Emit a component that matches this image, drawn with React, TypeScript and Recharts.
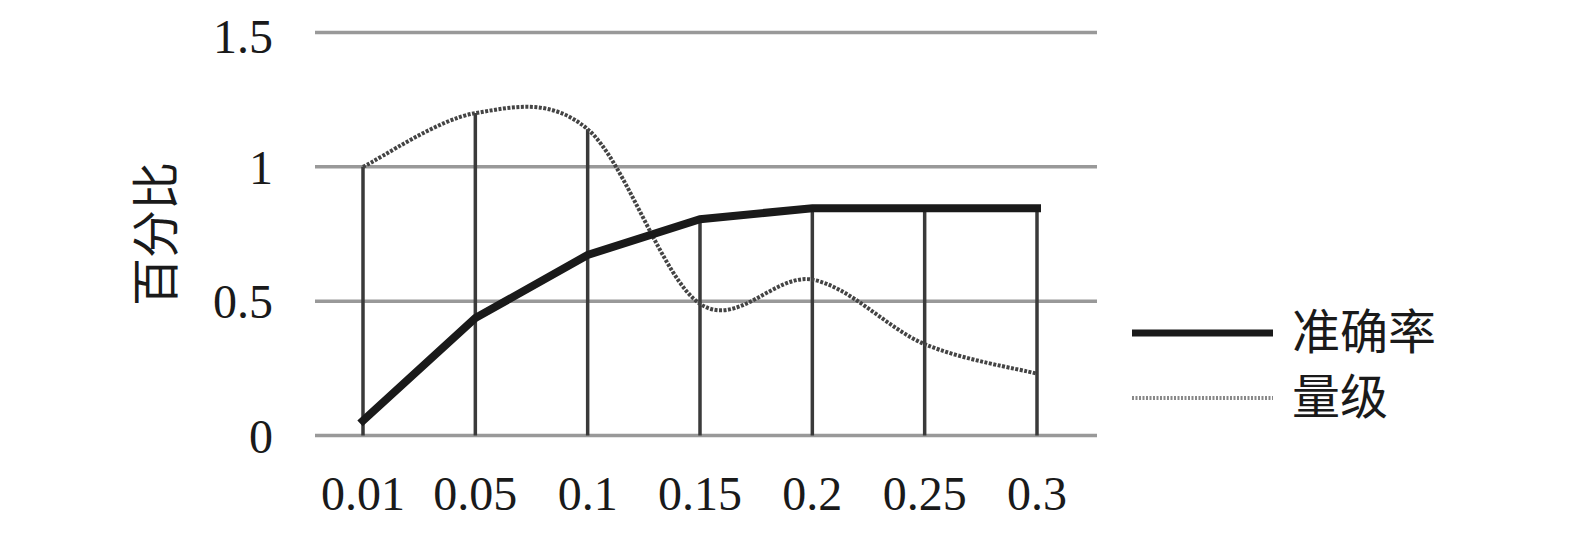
import React from "react"
import { LineChart, Line, XAxis, YAxis, CartesianGrid, ReferenceLine, Legend } from "recharts"

// x categories (threshold)
const categories = ["0.01", "0.05", "0.1", "0.15", "0.2", "0.25", "0.3"]
// 准确率 series
const accuracy = [0.055, 0.437, 0.672, 0.805, 0.846, 0.846, 0.846]
// 量级 series
const magnitude = [1.0, 1.2, 1.14, 0.49, 0.58, 0.34, 0.23]
const yTicks = [0, 0.5, 1, 1.5]

const SERIF = "'Liberation Serif', 'Times New Roman', 'Noto Sans CJK SC', serif"

const data = categories.map((c, i) => ({
  x: c,
  accuracy: accuracy[i],
  magnitude: magnitude[i],
  top: Math.max(accuracy[i], magnitude[i]),
}))

// Excel-like smooth line (uniform Catmull-Rom as cubic bezier)
const smoothCurve = (context: any) => {
  let pts: number[][] = []
  return {
    areaStart() {},
    areaEnd() {},
    lineStart() {
      pts = []
    },
    point(x: number, y: number) {
      pts.push([+x, +y])
    },
    lineEnd() {
      if (!pts.length) return
      context.moveTo(pts[0][0], pts[0][1])
      for (let i = 0; i < pts.length - 1; i++) {
        const p0 = pts[i - 1] || pts[i]
        const p1 = pts[i]
        const p2 = pts[i + 1]
        const p3 = pts[i + 2] || p2
        context.bezierCurveTo(
          p1[0] + (p2[0] - p0[0]) / 6,
          p1[1] + (p2[1] - p0[1]) / 6,
          p2[0] - (p3[0] - p1[0]) / 6,
          p2[1] - (p3[1] - p1[1]) / 6,
          p2[0],
          p2[1],
        )
      }
    },
  }
}

const legendItems = [
  { name: "准确率", stroke: "#1a1a1a", width: 7, dash: undefined as string | undefined },
  { name: "量级", stroke: "#888", width: 4, dash: "2 1.5" },
]

const renderLegend = () => (
  <div style={{ fontFamily: SERIF, fontSize: 48, color: "#1a1a1a" }}>
    {legendItems.map((item) => (
      <div key={item.name} style={{ display: "flex", alignItems: "center", height: 65 }}>
        <svg width={141} height={10}>
          <line x1={0} y1={5} x2={141} y2={5} stroke={item.stroke} strokeWidth={item.width} strokeDasharray={item.dash} />
        </svg>
        <span style={{ marginLeft: 19, lineHeight: "65px" }}>{item.name}</span>
      </div>
    ))}
  </div>
)

export default function App() {
  return (
    <div style={{ width: 1559, height: 517, background: "#fff" }}>
      <LineChart width={1559} height={517} data={data} margin={{ top: 24.5, right: 470, bottom: 29.5, left: 0 }}>
        <CartesianGrid vertical={false} stroke="#999" strokeWidth={3.5} />
        <XAxis
          dataKey="x"
          type="category"
          scale="point"
          padding={{ left: 48, right: 60 }}
          axisLine={false}
          tickLine={false}
          height={60}
          tickMargin={34}
          interval={0}
          tick={{ fontFamily: SERIF, fontSize: 48, fill: "#1a1a1a" }}
        />
        <YAxis
          domain={[0, 1.5]}
          ticks={yTicks}
          width={307}
          axisLine={false}
          tickLine={false}
          tickMargin={36}
          tick={{ fontFamily: SERIF, fontSize: 48, fill: "#1a1a1a" }}
          label={{
            value: "百分比",
            angle: -90,
            position: "center",
            dx: -6,
            style: { fontFamily: SERIF, fontSize: 48, fill: "#1a1a1a" },
          }}
        />
        {data.map((d) => (
          <ReferenceLine
            key={d.x}
            segment={[
              { x: d.x, y: 0 },
              { x: d.x, y: d.top },
            ]}
            stroke="#3a3a3a"
            strokeWidth={3.5}
            ifOverflow="visible"
          />
        ))}
        <Line
          dataKey="magnitude"
          name="量级"
          type={smoothCurve as any}
          stroke="#444"
          strokeWidth={4}
          strokeDasharray="3 1.5"
          dot={false}
          isAnimationActive={false}
        />
        <Line
          dataKey="accuracy"
          name="准确率"
          type="linear"
          stroke="#1a1a1a"
          strokeWidth={8}
          strokeLinecap="square"
          dot={false}
          isAnimationActive={false}
        />
        <Legend
          layout="horizontal"
          verticalAlign="middle"
          align="center"
          content={renderLegend}
          wrapperStyle={{ left: 1124, top: 292, width: 330 }}
        />
      </LineChart>
    </div>
  )
}
